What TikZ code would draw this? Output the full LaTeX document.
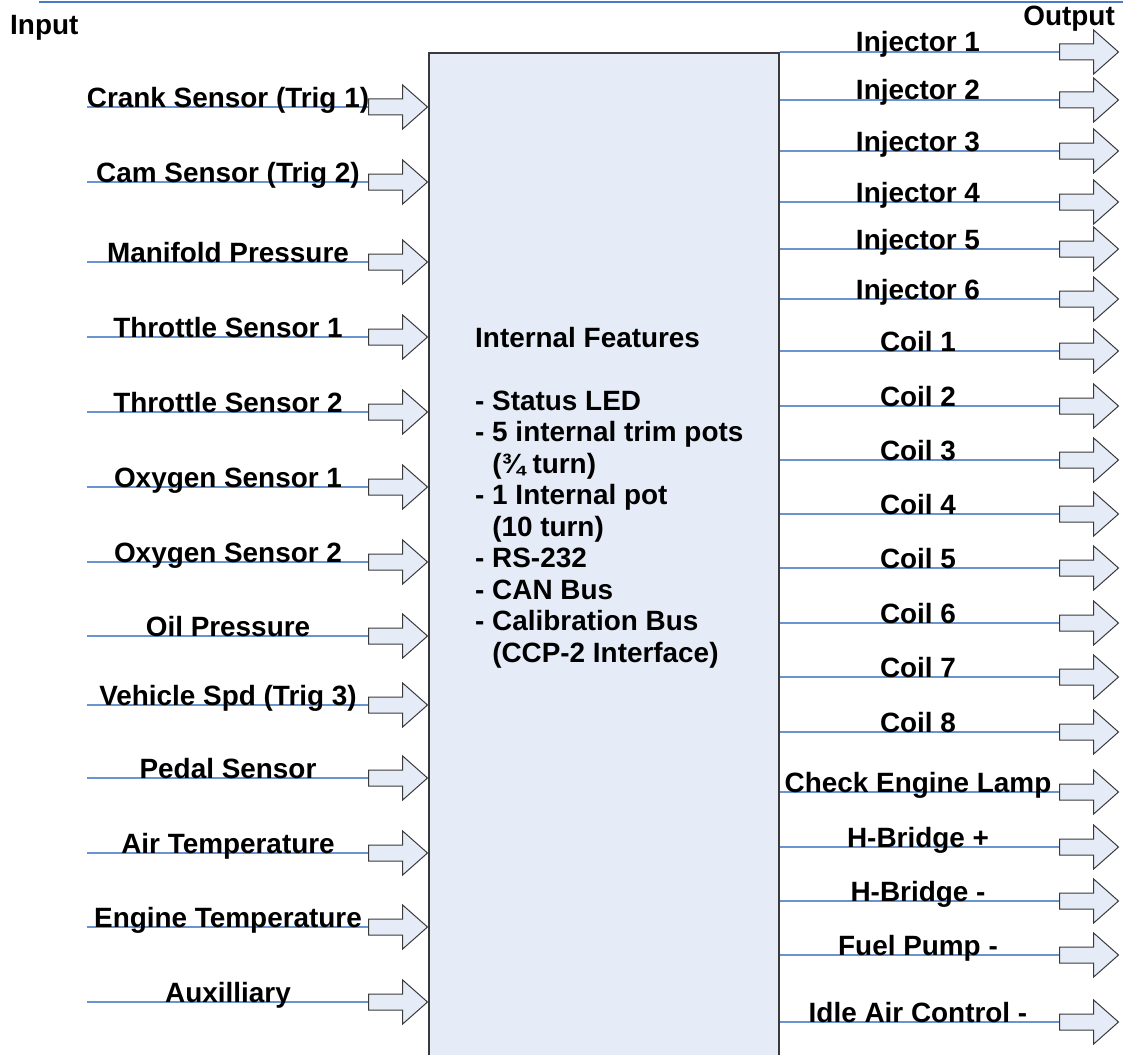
\documentclass[tikz,border=0pt]{standalone}
\usepackage{fontspec}
\setmainfont{Liberation Sans}
\usepackage{tikz}
\usetikzlibrary{shapes.arrows}

\definecolor{wireblue}{HTML}{6A94D0}
\definecolor{rulerblue}{HTML}{4A7BC4}
\definecolor{panelfill}{HTML}{E6ECF7}
\definecolor{edgegray}{HTML}{3A3A3A}

\tikzset{
  lbl/.style={font=\bfseries\fontsize{27.9}{31.5}\selectfont, inner sep=0pt},
  sigline/.style={wireblue, line width=1.5pt},
  portarrow/.style={single arrow, draw=edgegray, fill=panelfill, line width=1pt,
    minimum height=59pt, inner xsep=0pt, inner ysep=7.5pt,
    single arrow head extend=14pt, single arrow tip angle=83, anchor=tail},
  ecubox/.style={draw=edgegray, fill=panelfill, line width=1.8pt, anchor=north west,
    minimum width=350pt, minimum height=1020pt, inner sep=0pt}
}

\begin{document}
\begin{tikzpicture}[x=1pt,y=-1pt]
        % page frame
        \clip (0,0) rectangle (1123,1054);

        % header rule and column titles
        \draw[rulerblue, line width=2pt] (39,2.5) -- (1123,2.5);
        \node[lbl, anchor=base west] (inhead) at (10,35) {Input};
        \node[lbl, anchor=base east] (outhead) at (1115,26) {Output};

        % the controller block
        \node[ecubox] (ecu) at (428,52) {};
        \node[lbl, align=left, anchor=north west] (feat) at (475,327) {%
            Internal Features\\[31.5pt]
            - Status LED\\
            - 5 internal trim pots\\
            \hphantom{- }(¾ turn)\\
            - 1 Internal pot\\
            \hphantom{- }(10 turn)\\
            - RS-232\\
            - CAN Bus\\
            - Calibration Bus\\
            \hphantom{- }(CCP-2 Interface)};

        % inputs on the left
        \foreach \y/\name [count=\i] in {107/Crank Sensor (Trig 1),
            182/Cam Sensor (Trig 2), 262/Manifold Pressure,
            337/Throttle Sensor 1, 412/Throttle Sensor 2,
            487/Oxygen Sensor 1, 562/Oxygen Sensor 2, 636/Oil Pressure,
            705/Vehicle Spd (Trig 3), 778/Pedal Sensor, 853/Air Temperature,
            927/Engine Temperature, 1002/Auxilliary} {
            \coordinate (is\i) at (87,\y);
            \node[portarrow] (ia\i) at (368,\y) {};
            \draw[sigline] (is\i) -- (ia\i.tail);
            \node[lbl, anchor=base] (il\i) at (228,\y) {\name};
        }

        % outputs on the right
        \foreach \y/\name [count=\i] in {52/Injector 1, 100/Injector 2,
            151/Injector 3, 202/Injector 4, 249/Injector 5, 299/Injector 6,
            351/Coil 1, 406/Coil 2, 460/Coil 3, 514/Coil 4, 568/Coil 5,
            623/Coil 6, 677/Coil 7, 732/Coil 8, 792/Check Engine Lamp,
            847/H-Bridge +, 901/H-Bridge -, 955/Fuel Pump -,
            1022/Idle Air Control -} {
            \node[portarrow] (oa\i) at (1059,\y) {};
            \draw[sigline] (oa\i.tail -| ecu.east) -- (oa\i.tail);
            \node[lbl, anchor=base] (ol\i) at (918,\y) {\name};
        }
\end{tikzpicture}
\end{document}
